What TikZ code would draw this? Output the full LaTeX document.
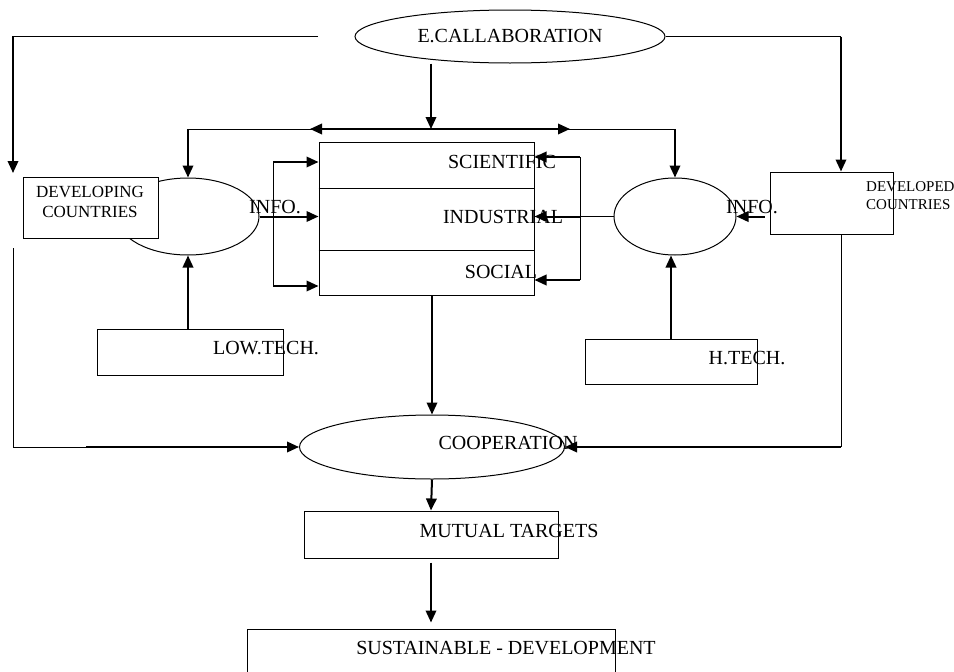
\documentclass[tikz,border=0pt]{standalone}
\usepackage{fontspec}
\setmainfont{Liberation Serif}
\usetikzlibrary{shapes.geometric,arrows.meta}
\tikzset{
  ln/.style={line width=1pt},
  arr/.style={line width=2pt,-{Triangle[length=12pt,width=10.5pt]}},
  darr/.style={line width=2pt,{Triangle[length=12pt,width=10.5pt]}-{Triangle[length=12pt,width=10.5pt]}},
  box/.style={draw,line width=1pt,fill=white,inner sep=0pt},
  oval/.style={draw,ellipse,line width=1pt,fill=white,inner sep=0pt},
  lbl/.style={inner sep=0pt,font=\fontsize{20}{22}\selectfont},
}
\begin{document}
\begin{tikzpicture}[x=1pt,y=-1pt]
\clip (0,0) rectangle (954,672);
\fill[white] (0,0) rectangle (954,672);

% shapes
\node[oval,minimum width=310,minimum height=53,font=\fontsize{20}{22}\selectfont] (ecol) at (510,36.5) {E.CALLABORATION};
\node[oval,minimum width=142,minimum height=77] (infoL) at (188,216.5) {};
\node[box,minimum width=135,minimum height=61] (devg) at (90.5,207.5) {};
\node[oval,minimum width=122,minimum height=77] (infoR) at (675,216.5) {};
\node[box,minimum width=123,minimum height=62] (devd) at (831.5,203) {};
\node[box,minimum width=215,minimum height=153] (cbox) at (426.5,218.5) {};
\node[box,minimum width=186,minimum height=46] (lowbox) at (190,352) {};
\node[box,minimum width=172,minimum height=45] (hbox) at (671,361.5) {};
\node[oval,minimum width=265,minimum height=64] (coop) at (432,447) {};
\node[box,minimum width=254,minimum height=47] (mbox) at (431,534.5) {};
\node[box,minimum width=368,minimum height=71] (sbox) at (431,664.5) {};

% dividers of the central box
\coordinate (d1) at (0,188);
\coordinate (d2) at (0,250);
\draw[ln] (cbox.west |- d1) -- (cbox.east |- d1);
\draw[ln] (cbox.west |- d2) -- (cbox.east |- d2);

% labels
\node[lbl,align=center,font=\fontsize{17}{20}\selectfont] (tdevg) at (90,202) {DEVELOPING\\COUNTRIES};
\node[lbl] (tinfoL) at (275,207) {INFO.};
\node[lbl] (tsci) at (502,162) {SCIENTIFIC};
\node[lbl] (tind) at (503,217) {INDUSTRIAL};
\node[lbl] (tsoc) at (501,272) {SOCIAL};
\node[lbl] (tinfoR) at (752,207) {INFO.};
\node[lbl,anchor=west,align=left,font=\fontsize{15}{18}\selectfont] (tdevd) at (866,196) {DEVELOPED\\COUNTRIES};
\node[lbl] (tlow) at (266,348) {LOW.TECH.};
\node[lbl] (th) at (747,358) {H.TECH.};
\node[lbl] (tcoop) at (508,443) {COOPERATION};
\node[lbl] (tmut) at (509,531) {MUTUAL TARGETS};
\node[lbl] (tsus) at (506,648) {SUSTAINABLE - DEVELOPMENT};

% top connectors
\coordinate (ecL) at (318,36);
\coordinate (cornL) at (13,36);
\coordinate (devArr) at (13,173);
\draw[ln] (ecL) -- (cornL);
\draw[arr] (cornL) -- (devArr);
\coordinate (cornR) at (841,36.5);
\draw[ln] (ecol.east) -- (cornR);
\draw[arr] (cornR) -- (cornR |- devd.north);

\coordinate (bus) at (431,129);
\draw[arr] (bus |- ecol.south) -- (bus);
\coordinate (busL) at (188,129);
\coordinate (busR) at (675,129);
\coordinate (busA) at (310,129);
\coordinate (busB) at (570,129);
\draw[ln] (busL) -- (busR);
\draw[darr] (busA) -- (busB);
\draw[arr] (busL) -- (infoL.north);
\draw[arr] (busR) -- (infoR.north);

% left feeds
\draw[arr] (infoL.east) -- (cbox.west |- infoL.east);
\coordinate (fL1) at (273,162);
\coordinate (fL2) at (273,286);
\draw[ln] (fL1) -- (fL2);
\draw[arr] (fL1) -- (cbox.west |- fL1);
\draw[arr] (fL2) -- (cbox.west |- fL2);

% right feeds
\coordinate (fR1) at (580,157);
\coordinate (fR2) at (580,280);
\coordinate (fRm) at (580,216.5);
\draw[ln] (fR1) -- (fR2);
\draw[arr] (fR1) -- (cbox.east |- fR1);
\draw[arr] (fR2) -- (cbox.east |- fR2);
\draw[ln] (infoR.west) -- (fRm);
\draw[arr] (fRm) -- (cbox.east |- fRm);
\draw[arr,shorten <=5pt] (devd.west |- infoR.east) -- (infoR.east);

% tech inputs
\draw[arr] (lowbox.north -| infoL.south) -- (infoL.south);
\draw[arr] (hbox.north) -- (hbox.north |- infoR.south);

% to cooperation
\draw[arr] (coop.north |- cbox.south) -- (coop.north);
\coordinate (cL1) at (13,248);
\coordinate (cL2) at (13,447);
\coordinate (cL3) at (86,447);
\draw[ln] (cL1) -- (cL2) -- (cL3);
\draw[arr] (cL3) -- (coop.west);
\coordinate (cR) at (841,447);
\draw[ln] (cR |- devd.south) -- (cR);
\draw[arr] (cR) -- (coop.east);

% bottom chain
\draw[arr] (coop.south) -- (mbox.north);
\draw[arr,shorten <=4pt,shorten >=6pt] (mbox.south) -- (sbox.north);
\end{tikzpicture}
\end{document}
